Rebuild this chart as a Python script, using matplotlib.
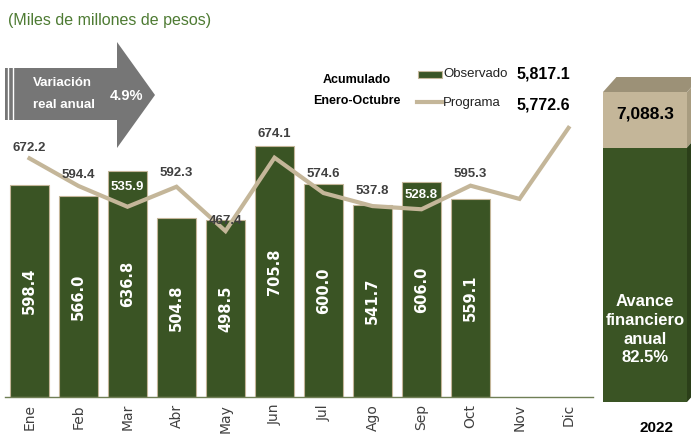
import matplotlib
matplotlib.use("Agg")
import matplotlib.pyplot as plt
from matplotlib.patches import Polygon, Rectangle

# Datos (miles de millones de pesos)
meses = ["Ene", "Feb", "Mar", "Abr", "May", "Jun", "Jul", "Ago", "Sep", "Oct", "Nov", "Dic"]
observado = [598.4, 566.0, 636.8, 504.8, 498.5, 705.8, 600.0, 541.7, 606.0, 559.1]
programa = [672.2, 594.4, 535.9, 592.3, 467.4, 674.1, 574.6, 537.8, 528.8, 595.3, 558.0, 758.0]
acum_observado = "5,817.1"
acum_programa = "5,772.6"
anual_total = 7088.3
anual_observado = 5817.1
avance_pct = "82.5%"
variacion_pct = "4.9%"

VERDE = "#3A5424"
TAN = "#C4B699"
GRIS = "#404040"
ARIAL = "Liberation Sans"

# desplazamiento (px) de las etiquetas del programa sobre el punto
label_off = [10, 11, 20, 14, 10, 24, 19, 15, 14, 12]

W, H = 691, 440
fig = plt.figure(figsize=(W / 100, H / 100), dpi=100)

# capa de anotaciones en pixeles
ov = fig.add_axes([0, 0, 1, 1])
ov.set_xlim(0, W)
ov.set_ylim(H, 0)
ov.axis("off")

ov.text(8, 21, "(Miles de millones de pesos)", color="#4E7B33", fontsize=11.5,
        va="center", ha="left", family=ARIAL)

# flecha de variacion
flecha = [(5, 68), (117, 68), (117, 42), (155, 95), (117, 148), (117, 120), (5, 120)]
ov.add_patch(Polygon(flecha, closed=True, color="#767676", lw=0))
ov.plot([8, 8], [68, 120], color="white", lw=1)
ov.plot([13, 13], [68, 120], color="white", lw=1)
ov.text(62, 83, "Variación", color="white", fontsize=9.5, fontweight="bold",
        ha="center", va="center", family=ARIAL)
ov.text(64, 105, "real anual", color="white", fontsize=9.5, fontweight="bold",
        ha="center", va="center", family=ARIAL)
ov.text(127, 96, variacion_pct, color="white", fontsize=10.5, fontweight="bold",
        ha="center", va="center", family=ARIAL)

# leyenda
ov.text(357, 80, "Acumulado", fontsize=9, fontweight="bold", ha="center", va="center",
        family=ARIAL, color="black")
ov.text(357, 101, "Enero-Octubre", fontsize=9, fontweight="bold", ha="center",
        va="center", family=ARIAL, color="black")
ov.add_patch(Rectangle((418, 71), 24, 7, facecolor=VERDE, edgecolor=TAN, lw=0.8))
ov.plot([417, 442], [102, 102], color=TAN, lw=3)
ov.text(443, 74, "Observado", fontsize=9.5, ha="left", va="center", family=ARIAL,
        color="#222222")
ov.text(443, 103, "Programa", fontsize=9.5, ha="left", va="center", family=ARIAL,
        color="#222222")
ov.text(543, 74, acum_observado, fontsize=11.5, fontweight="bold", ha="center",
        va="center", family=ARIAL, color="black")
ov.text(543, 105, acum_programa, fontsize=11.5, fontweight="bold", ha="center",
        va="center", family=ARIAL, color="black")

# grafica principal
ax = fig.add_axes([5 / W, 43 / H, 588 / W, 337 / H])
ax.set_facecolor("none")
px_per_unit = 0.355
ymax = 337 / px_per_unit
x_obs = list(range(len(observado)))
x_prog = list(range(len(programa)))

ax.bar(x_obs, observado, width=0.78, color=VERDE, edgecolor=TAN, lw=0.8, zorder=2)
for xi, v in zip(x_obs, observado):
    ax.text(xi, v / 2, f"{v:.1f}", rotation=90, color="white", fontsize=10.5,
            fontweight="bold", ha="center", va="center", zorder=4)

ax.plot(x_prog, programa, color=TAN, lw=3, zorder=3, solid_joinstyle="miter")
for i, v in enumerate(programa[:len(observado)]):
    ly = v + label_off[i] / px_per_unit
    col = "white" if ly < observado[i] - 20 else GRIS
    ax.text(i, ly, f"{v:.1f}", color=col, fontsize=9.5, fontweight="bold",
            ha="center", va="center", family=ARIAL, zorder=5)

ax.set_xlim(-0.5, len(meses) - 0.5)
ax.set_ylim(0, ymax)
ax.set_xticks(x_prog)
ax.set_xticklabels(meses, rotation=90, fontsize=10, color=GRIS, va="top")
ax.tick_params(axis="x", length=0, pad=5)
ax.set_yticks([])
for s in ["top", "left", "right"]:
    ax.spines[s].set_visible(False)
ax.spines["bottom"].set_color("#6F7F55")
ax.spines["bottom"].set_linewidth(1)

# barra anual 2022
ab = fig.add_axes([603 / W, 38 / H, 84 / W, 310 / H])
ab.set_xlim(0, 1)
ab.set_ylim(0, anual_total)
ab.axis("off")
resto = anual_total - anual_observado
ab.bar([0.5], [anual_observado], width=1, color=VERDE, lw=0)
ab.bar([0.5], [resto], bottom=[anual_observado], width=1, color=TAN, lw=0)
dx, dy = 0.16, 15 * anual_total / 310
ab.add_patch(Polygon([(0, anual_total), (1, anual_total), (1 + dx, anual_total + dy),
                      (dx, anual_total + dy)], closed=True, color="#9C9177", lw=0,
                     clip_on=False))
ab.add_patch(Polygon([(1, anual_observado), (1, anual_total), (1 + dx, anual_total + dy),
                      (1 + dx, anual_observado + dy)], closed=True, color="#A89C80", lw=0,
                     clip_on=False))
ab.add_patch(Polygon([(1, 0), (1, anual_observado), (1 + dx, anual_observado + dy),
                      (1 + dx, dy)], closed=True, color="#2B3F19", lw=0, clip_on=False))
ab.text(0.5, anual_observado + resto * 0.6, f"{anual_total:,.1f}", fontsize=12.5,
        fontweight="bold", ha="center", va="center", family=ARIAL, color="black")
ab.text(0.5, 1650, "Avance\nfinanciero\nanual\n" + avance_pct, fontsize=12,
        fontweight="bold", ha="center", va="center", family=ARIAL, color="white",
        linespacing=1.3)

ov.text(657, 428, "2022", fontsize=11, fontweight="bold", ha="center", va="center",
        family=ARIAL, color="black")

fig.savefig("out.png", dpi=100)
